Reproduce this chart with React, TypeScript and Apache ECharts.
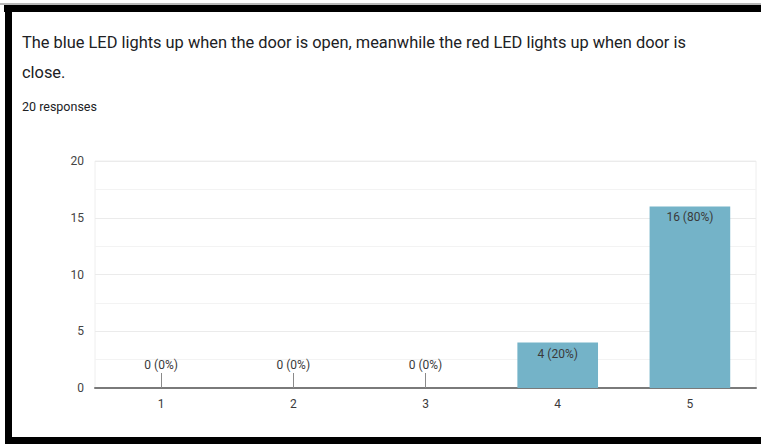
import React, { useEffect, useRef } from "react";
import * as echarts from "echarts";

const categories = ["1", "2", "3", "4", "5"];
const counts = [0, 0, 0, 4, 16];
const percents = [0, 0, 0, 20, 80];
const yTicks = [0, 5, 10, 15, 20];
const titleLine1 = "The blue LED lights up when the door is open, meanwhile the red LED lights up when door is";
const titleLine2 = "close.";
const subtitle = "20 responses";

export default function App() {
  const ref = useRef<HTMLDivElement>(null);
  useEffect(() => {
    if (!ref.current) return;
    const chart = echarts.init(ref.current, null, { renderer: "svg" });
    const labelFont = "'Roboto', sans-serif";
    const data = counts.map((v, i) => ({
      value: v,
      label: {
        show: true,
        position: v === 0 ? "top" : "insideTop",
        distance: v === 0 ? 17 : 5,
        formatter: `${v} (${percents[i]}%)`,
      },
    }));
    chart.setOption({
      animation: false,
      backgroundColor: "#ffffff",
      grid: {
        left: 95,
        right: 5,
        top: 161,
        bottom: 56,
        show: true,
        borderColor: "#eeeeee",
        borderWidth: 1,
      },
      xAxis: {
        type: "category",
        data: categories,
        axisLine: { show: true, lineStyle: { color: "#7a7a7a", width: 2 } },
        axisTick: {
          show: true,
          inside: true,
          alignWithLabel: true,
          length: 15,
          lineStyle: { color: "#8a8a8a", width: 1 },
        },
        axisLabel: {
          color: "#3a3a3a",
          fontSize: 12,
          fontFamily: labelFont,
          margin: 10,
        },
        splitLine: { show: false },
      },
      yAxis: {
        type: "value",
        min: yTicks[0],
        max: yTicks[yTicks.length - 1],
        interval: 5,
        axisLine: { show: false },
        axisTick: { show: false },
        axisLabel: {
          color: "#444444",
          fontSize: 12,
          fontFamily: labelFont,
          margin: 11,
        },
        splitLine: { show: true, lineStyle: { color: "#ebebeb", width: 1 } },
        minorTick: { show: false, splitNumber: 2 },
        minorSplitLine: { show: true, lineStyle: { color: "#f3f3f3", width: 1 } },
      },
      series: [
        {
          type: "bar",
          data,
          barWidth: "61%",
          itemStyle: { color: "#74b3c8" },
          label: {
            color: "#3a3a3a",
            fontSize: 12,
            fontFamily: labelFont,
          },
          z: 3,
        },
      ],
      graphic: [
        { type: "rect", shape: { x: 0, y: 3, width: 761, height: 2 }, style: { fill: "#b8b8b8" }, silent: true },
        { type: "rect", shape: { x: 4, y: 5, width: 757, height: 7 }, style: { fill: "#000000" }, silent: true },
        { type: "rect", shape: { x: 5, y: 5, width: 7, height: 439 }, style: { fill: "#000000" }, silent: true },
        { type: "rect", shape: { x: 5, y: 437, width: 756, height: 7 }, style: { fill: "#000000" }, silent: true },
        {
          type: "text",
          x: 22,
          y: 42,
          scaleX: 0.965,
          style: {
            text: titleLine1,
            fill: "#202124",
            font: "17px 'Roboto', sans-serif",
            textVerticalAlign: "middle",
          },
        },
        {
          type: "text",
          x: 22,
          y: 72,
          scaleX: 0.965,
          style: {
            text: titleLine2,
            fill: "#202124",
            font: "17px 'Roboto', sans-serif",
            textVerticalAlign: "middle",
          },
        },
        {
          type: "text",
          x: 22,
          y: 106,
          style: {
            text: subtitle,
            fill: "#202124",
            font: "12.5px 'Roboto', sans-serif",
            textVerticalAlign: "middle",
          },
        },
      ],
    });
    return () => chart.dispose();
  }, []);
  return (
    <div
      ref={ref}
      style={{ position: "fixed", left: 0, top: 0, width: 761, height: 444 }}
    />
  );
}
